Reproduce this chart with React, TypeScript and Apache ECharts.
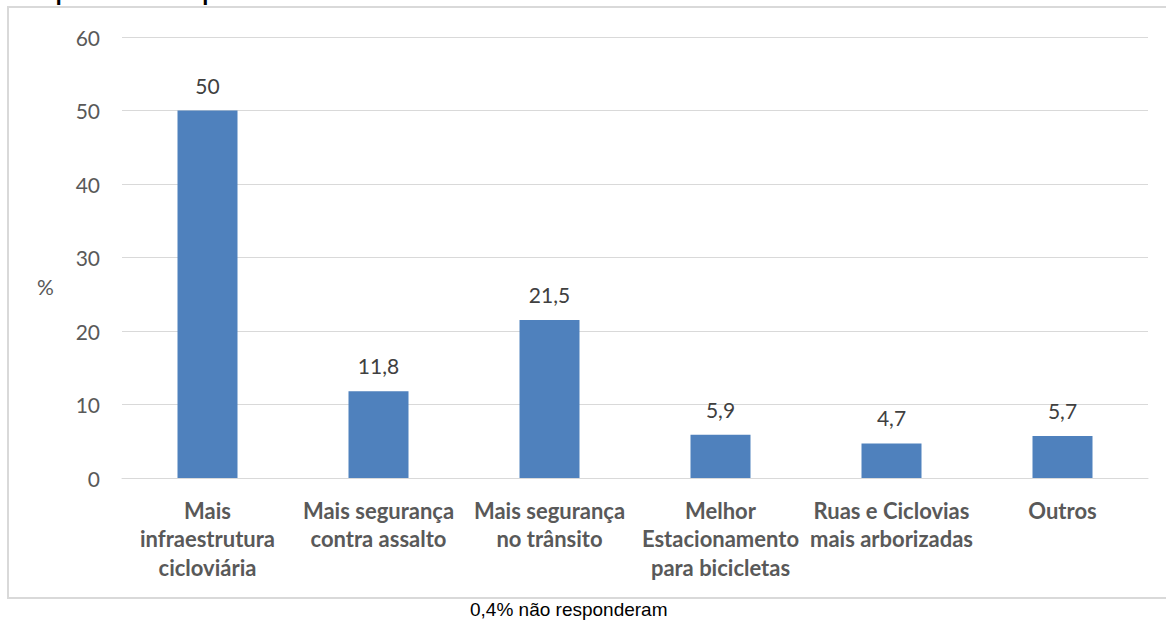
import React, { useEffect, useRef } from "react";
import * as echarts from "echarts";

const categories = [
  "Mais\ninfraestrutura\ncicloviária",
  "Mais segurança\ncontra assalto",
  "Mais segurança\nno trânsito",
  "Melhor\nEstacionamento\npara bicicletas",
  "Ruas e Ciclovias\nmais arborizadas",
  "Outros",
];
const values = [50, 11.8, 21.5, 5.9, 4.7, 5.7];
const titleText = "O que faria você pedalar mais?";
const footnote = "0,4% não responderam";
const axisName = "%";

export default function App() {
  const ref = useRef<HTMLDivElement>(null);
  useEffect(() => {
    const chart = echarts.init(ref.current!, null, { renderer: "svg" });
    const font = "Lato, 'Open Sans', sans-serif";
    chart.setOption({
      animation: false,
      backgroundColor: "#ffffff",
      grid: { left: 122, right: 18, top: 37, bottom: 142, containLabel: false },
      graphic: [
        {
          type: "rect",
          shape: { x: 8, y: 7, width: 1170, height: 591 },
          style: { fill: "none", stroke: "#d9d9d9", lineWidth: 2 },
          silent: true,
        },
        {
          type: "text",
          left: 25,
          top: -19,
          style: {
            text: titleText,
            font: "bold 22px 'Liberation Sans', Arial, sans-serif",
            fill: "#000000",
          },
        },
        {
          type: "text",
          left: 37,
          top: 276,
          style: { text: axisName, font: "21px " + font, fill: "#595959" },
        },
        {
          type: "text",
          left: 470,
          top: 600,
          style: {
            text: footnote,
            font: "19px 'Liberation Sans Narrow', 'Liberation Sans', Arial, sans-serif",
            fill: "#000000",
          },
        },
      ],
      xAxis: {
        type: "category",
        data: categories,
        axisLine: { lineStyle: { color: "#d9d9d9", width: 1 } },
        axisTick: { show: false },
        axisLabel: {
          interval: 0,
          margin: 18,
          color: "#595959",
          fontFamily: font,
          fontWeight: "bold",
          fontSize: 22,
          lineHeight: 28.5,
        },
      },
      yAxis: {
        type: "value",
        min: 0,
        max: 60,
        interval: 10,
        axisLine: { show: false },
        axisTick: { show: false },
        splitLine: { lineStyle: { color: "#d9d9d9", width: 1 } },
        axisLabel: { color: "#595959", fontFamily: font, fontSize: 21, margin: 22 },
      },
      series: [
        {
          type: "bar",
          data: values,
          barWidth: 60,
          itemStyle: { color: "#4f81bd" },
          label: {
            show: true,
            position: "top",
            distance: 15,
            color: "#404040",
            fontFamily: font,
            fontSize: 21,
            formatter: (p: any) => String(p.value).replace(".", ","),
          },
        },
      ],
    });
    return () => chart.dispose();
  }, []);
  return (
    <div
      ref={ref}
      style={{ position: "fixed", left: 0, top: 0, width: 1166, height: 620 }}
    />
  );
}
